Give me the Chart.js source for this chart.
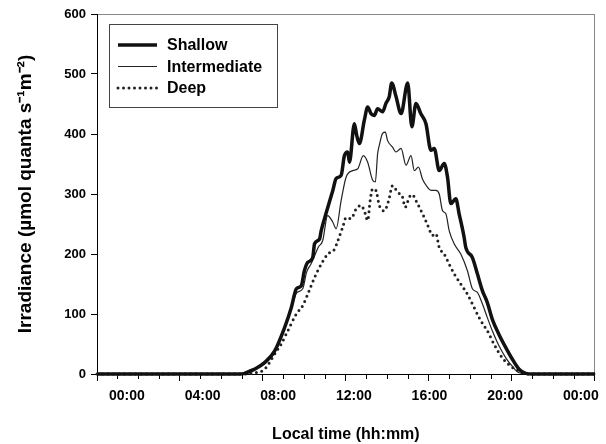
<!DOCTYPE html>
<html>
<head>
<meta charset="utf-8">
<script src="https://cdn.jsdelivr.net/npm/chart.js@4.4.1/dist/chart.umd.min.js"></script>
<style>
  html, body { margin: 0; padding: 0; background: #ffffff; }
  #wrap { width: 606px; height: 444px; }
</style>
</head>
<body>
<div id="wrap"><canvas id="c" width="606" height="444"></canvas></div>
<script>
// ---- data (hours of day, irradiance) ----
const seriesNames = ['Shallow', 'Intermediate', 'Deep'];
const timeLabels = ['00:00', '04:00', '08:00', '12:00', '16:00', '20:00', '00:00'];
const yTickStep = 100;

const shallowData = [[0,0],[6.88,0],[7.12,1],[7.60,8],[8.08,19],[8.56,38],[9.04,77],[9.37,111],[9.61,142],[9.85,147],[10.00,172],[10.16,186],[10.40,194],[10.49,217],[10.73,225],[10.81,239],[11.08,272],[11.37,306],[11.53,326],[11.77,331],[11.93,364],[12.09,370],[12.17,353],[12.41,417],[12.52,398],[12.65,384],[12.89,423],[13.05,445],[13.21,434],[13.37,431],[13.53,442],[13.77,437],[13.93,451],[14.09,462],[14.21,485],[14.42,462],[14.66,434],[14.98,485],[15.18,412],[15.38,451],[15.61,434],[15.86,417],[16.10,373],[16.26,376],[16.50,339],[16.74,351],[16.90,328],[17.06,284],[17.30,292],[17.46,267],[17.70,228],[17.78,211],[18.10,194],[18.34,167],[18.58,139],[18.82,119],[19.06,91],[19.38,66],[19.71,44],[20.02,25],[20.35,8],[20.67,1],[20.99,0],[24,0]];

const intermediateData = [[0,0],[6.88,0],[7.36,7],[8.08,17],[8.56,35],[9.04,75],[9.38,110],[9.62,135],[9.92,142],[10.10,169],[10.33,184],[10.49,197],[10.68,212],[10.88,222],[11.12,264],[11.37,253],[11.53,242],[11.77,289],[12.01,328],[12.33,339],[12.57,342],[12.84,364],[13.05,353],[13.29,323],[13.42,320],[13.53,367],[13.61,381],[13.77,401],[13.90,403],[14.01,389],[14.25,378],[14.42,370],[14.66,376],[14.90,348],[15.14,364],[15.30,339],[15.50,345],[15.69,325],[15.94,311],[16.10,306],[16.34,306],[16.50,300],[16.66,272],[16.82,267],[16.98,239],[17.22,217],[17.54,200],[17.86,172],[18.10,142],[18.34,136],[18.58,117],[18.82,94],[19.06,72],[19.38,47],[19.71,27],[20.02,13],[20.35,2],[20.83,0],[24,0]];

const deepData = [[0,0],[7.12,0],[7.60,2],[8.08,8],[8.56,33],[8.88,50],[9.20,72],[9.61,100],[9.92,114],[10.16,133],[10.49,161],[10.81,183],[11.13,200],[11.45,208],[11.61,222],[11.85,245],[12.01,261],[12.25,259],[12.49,275],[12.73,281],[12.89,272],[13.05,256],[13.17,289],[13.29,309],[13.45,306],[13.61,281],[13.85,272],[14.06,289],[14.25,314],[14.49,303],[14.73,295],[14.86,278],[15.06,295],[15.21,299],[15.38,289],[15.54,278],[15.78,261],[15.98,245],[16.18,231],[16.34,234],[16.50,211],[16.74,200],[16.98,183],[17.22,167],[17.54,150],[17.86,133],[18.18,111],[18.50,89],[18.82,72],[19.14,50],[19.54,27],[19.95,13],[20.35,5],[20.83,0],[24,0]];

const toPoints = arr => arr.map(p => ({ x: p[0], y: p[1] }));

Chart.defaults.font.family = '"Liberation Sans", Arial, Helvetica, sans-serif';
Chart.defaults.color = '#000';

const boxLegend = {
  id: 'boxLegend',
  afterDatasetsDraw(chart, args, o) {
    const { ctx, chartArea } = chart;
    const x0 = chartArea.left + o.offsetX, y0 = chartArea.top + o.offsetY;
    ctx.save();
    ctx.fillStyle = '#fff';
    ctx.fillRect(x0, y0, o.width, o.height);
    ctx.strokeStyle = o.borderColor;
    ctx.lineWidth = 1;
    ctx.strokeRect(x0 + 0.5, y0 + 0.5, o.width, o.height);
    chart.data.datasets.forEach((ds, i) => {
      const y = y0 + o.firstRow + i * o.rowGap;
      ctx.beginPath();
      ctx.lineWidth = ds.borderWidth;
      ctx.strokeStyle = ds.borderColor;
      ctx.setLineDash(ds.borderDash || []);
      ctx.lineCap = ds.borderCapStyle || 'butt';
      ctx.moveTo(x0 + o.lineStart, y);
      ctx.lineTo(x0 + o.lineEnd, y);
      ctx.stroke();
      ctx.setLineDash([]);
      ctx.fillStyle = '#000';
      ctx.font = o.font;
      ctx.textBaseline = 'middle';
      ctx.textAlign = 'left';
      ctx.fillText(ds.label, x0 + o.textStart, y + 1);
    });
    ctx.restore();
  }
};

new Chart(document.getElementById('c'), {
  type: 'line',
  data: {
    datasets: [
      { label: seriesNames[0], data: toPoints(shallowData), borderColor: '#111', borderWidth: 3.5, pointRadius: 0, cubicInterpolationMode: 'monotone', clip: false, borderJoinStyle: 'round' },
      { label: seriesNames[1], data: toPoints(intermediateData), borderColor: '#222', borderWidth: 1.2, pointRadius: 0, cubicInterpolationMode: 'monotone', clip: false },
      { label: seriesNames[2], data: toPoints(deepData), borderColor: '#222', borderWidth: 3, borderDash: [0, 5.5], borderCapStyle: 'round', pointRadius: 0, cubicInterpolationMode: 'monotone', clip: false }
    ]
  },
  options: {
    responsive: false,
    animation: false,
    events: [],
    layout: { padding: { left: 0, right: 10, top: 14, bottom: 0 } },
    plugins: {
      legend: { display: false },
      tooltip: { enabled: false },
      boxLegend: {
        offsetX: 12, offsetY: 10, width: 168, height: 83,
        borderColor: '#444', firstRow: 21, rowGap: 21.5,
        lineStart: 9, lineEnd: 48, textStart: 58,
        font: 'bold 16px "Liberation Sans", Arial, sans-serif'
      }
    },
    scales: {
      x: {
        type: 'linear', position: 'bottom', weight: 0,
        min: 0, max: 24,
        ticks: { display: false, stepSize: 1, autoSkip: false },
        grid: {
          drawOnChartArea: false, drawTicks: true, tickLength: 7, tickColor: '#000', tickWidth: 1,
          tickBorderDash: ctx => (ctx.tick && ctx.tick.value % 4 === 0) ? [] : [4, 50]
        },
        border: { display: true, color: '#000', width: 1 }
      },
      xLabels: {
        type: 'linear', position: 'bottom', weight: 1,
        min: -0.396, max: 6.185,
        afterBuildTicks: s => { s.ticks = timeLabels.map((_, i) => ({ value: i })); },
        ticks: {
          autoSkip: false, maxRotation: 0, padding: 7,
          font: { size: 14, weight: 'bold' }, color: '#000',
          callback: v => timeLabels[v]
        },
        grid: { display: false, drawTicks: false, tickLength: 0 },
        border: { display: false },
        title: { display: true, text: 'Local time (hh:mm)', font: { size: 16, weight: 'bold' }, color: '#000', padding: { top: 13, bottom: 0 } }
      },
      xTop: {
        type: 'linear', position: 'top', min: 0, max: 1,
        ticks: { display: false }, grid: { display: false, drawTicks: false, tickLength: 0 },
        border: { display: true, color: '#888', width: 1 }
      },
      y: {
        type: 'linear', position: 'left',
        min: 0, max: 600,
        ticks: { stepSize: yTickStep, padding: 5, font: { size: 13, weight: 'bold' }, color: '#000' },
        grid: { drawOnChartArea: false, drawTicks: true, tickLength: 6, tickColor: '#000' },
        border: { display: true, color: '#000', width: 1 },
        title: { display: true, text: 'Irradiance (µmol quanta s⁻¹m⁻²)', font: { size: 19, weight: 'bold' }, color: '#000', padding: { top: 14, bottom: 0 } },
        afterFit: s => { s.width = 97; }
      },
      yRight: {
        type: 'linear', position: 'right', min: 0, max: 1,
        ticks: { display: false }, grid: { display: false, drawTicks: false, tickLength: 0 },
        border: { display: true, color: '#888', width: 1 }
      }
    }
  },
  plugins: [boxLegend]
});
</script>
</body>
</html>
